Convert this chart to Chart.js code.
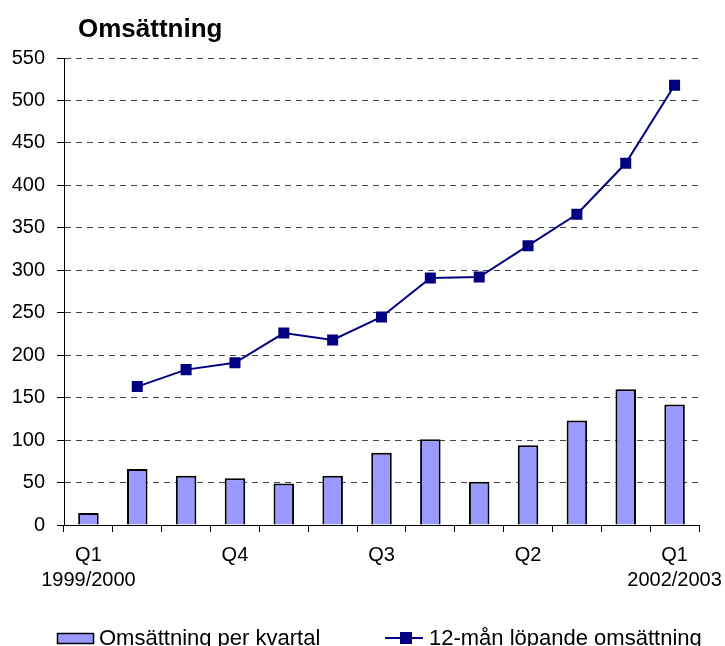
<!DOCTYPE html>
<html lang="sv">
<head>
<meta charset="utf-8">
<title>Omsättning</title>
<script src="https://cdn.jsdelivr.net/npm/chart.js@4.4.1/dist/chart.umd.min.js"></script>
<style>
    html, body { margin: 0; padding: 0; background: #ffffff; }
    #wrap { width: 725px; height: 646px; }
</style>
</head>
<body>
<div id="wrap"><canvas id="omsattning-chart" width="725" height="646"></canvas></div>
<script>
// Kvartal och värden (Mkr)
var kvartal = ["Q1", "Q2", "Q3", "Q4", "Q1", "Q2", "Q3", "Q4", "Q1", "Q2", "Q3", "Q4", "Q1"];
var tickLabels = [["Q1", "1999/2000"], "", "", "Q4", "", "", "Q3", "", "", "Q2", "", "", ["Q1", "2002/2003"]];
var perKvartal = [14, 66, 58, 55, 49, 58, 85, 101, 51, 94, 123, 160, 142];
var lopande12 = [null, 163, 183, 191, 226, 218, 245, 291, 292, 329, 366, 426, 518];
var yTicks = [0, 50, 100, 150, 200, 250, 300, 350, 400, 450, 500, 550];

var barLabel = "Omsättning per kvartal";
var lineLabel = "12-mån löpande omsättning";

(function () {
    "use strict";

    var FONT = "'Liberation Sans', Arial, sans-serif";
    var BAR_COLOR = "#9999ff";
    var LINE_COLOR = "#000080";

    // Titel och förklaring ritas för hand
    var titleAndLegend = {
        id: "titleAndLegend",
        afterDraw: function (chart) {
            var ctx = chart.ctx;
            ctx.save();
            ctx.fillStyle = "#000000";
            ctx.textBaseline = "alphabetic";
            ctx.textAlign = "left";

            ctx.font = "bold 26px " + FONT;
            ctx.fillText("Omsättning", 78, 37);

            // stapel
            ctx.fillStyle = BAR_COLOR;
            ctx.fillRect(57, 633, 37, 10);
            ctx.strokeStyle = "#000000";
            ctx.lineWidth = 1.5;
            ctx.strokeRect(57.5, 633.5, 36, 10);

            ctx.fillStyle = "#000000";
            ctx.font = "22px " + FONT;
            ctx.fillText(barLabel, 99, 645);

            // linje
            ctx.strokeStyle = LINE_COLOR;
            ctx.lineWidth = 2;
            ctx.beginPath();
            ctx.moveTo(385, 638);
            ctx.lineTo(423, 638);
            ctx.stroke();
            ctx.fillStyle = LINE_COLOR;
            ctx.fillRect(400, 632, 12, 12);

            ctx.fillStyle = "#000000";
            ctx.fillText(lineLabel, 429, 645);
            ctx.restore();
        },
    };

    var ctx = document.getElementById("omsattning-chart").getContext("2d");
    var chart = new Chart(ctx, {
        type: "bar",
        data: {
            labels: kvartal,
            datasets: [
                {
                    type: "line",
                    label: lineLabel,
                    data: lopande12,
                    order: 0,
                    borderColor: LINE_COLOR,
                    backgroundColor: LINE_COLOR,
                    borderWidth: 2,
                    tension: 0,
                    fill: false,
                    spanGaps: false,
                    pointStyle: "rect",
                    pointRadius: 7.8,
                    pointBorderWidth: 0,
                    pointBackgroundColor: LINE_COLOR,
                },
                {
                    type: "bar",
                    label: barLabel,
                    data: perKvartal,
                    order: 1,
                    backgroundColor: BAR_COLOR,
                    borderColor: "#000000",
                    borderWidth: 2,
                    categoryPercentage: 1,
                    barPercentage: 0.42,
                },
            ],
        },
        options: {
            responsive: false,
            animation: false,
            devicePixelRatio: 1,
            layout: {
                padding: { top: 58, right: 26, bottom: 0, left: 0 },
            },
            scales: {
                x: {
                    offset: true,
                    afterFit: function (scale) {
                        scale.height = 121;
                        scale.paddingLeft = 0;
                        scale.paddingRight = 0;
                    },
                    grid: {
                        offset: true,
                        drawOnChartArea: false,
                        drawTicks: true,
                        tickLength: 7,
                        color: "#000000",
                    },
                    border: { display: true, color: "#000000", width: 1 },
                    ticks: {
                        autoSkip: false,
                        maxRotation: 0,
                        minRotation: 0,
                        padding: 11,
                        color: "#000000",
                        font: { family: FONT, size: 20, lineHeight: 1.25 },
                        callback: function (value, index) {
                            return tickLabels[index];
                        },
                    },
                },
                y: {
                    min: yTicks[0],
                    max: yTicks[yTicks.length - 1],
                    afterFit: function (scale) {
                        scale.width = 64;
                    },
                    afterBuildTicks: function (scale) {
                        scale.ticks = yTicks.map(function (v) {
                            return { value: v };
                        });
                    },
                    grid: {
                        color: "#444444",
                        lineWidth: 1,
                        drawTicks: true,
                        tickLength: 7,
                        tickColor: "#000000",
                        tickBorderDash: [],
                    },
                    border: { display: true, color: "#000000", width: 1, dash: [6, 5] },
                    ticks: {
                        padding: 12,
                        color: "#000000",
                        font: { family: FONT, size: 20 },
                    },
                },
            },
            plugins: {
                legend: { display: false },
                title: { display: false },
                tooltip: { enabled: false },
            },
        },
        plugins: [titleAndLegend],
    });
})();
</script>
</body>
</html>
